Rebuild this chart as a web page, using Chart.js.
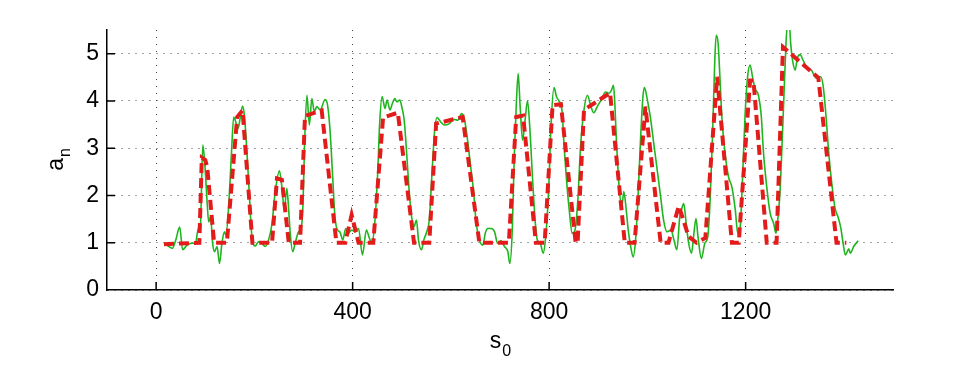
<!DOCTYPE html>
<html>
<head>
<meta charset="utf-8">
<script src="https://cdn.jsdelivr.net/npm/chart.js@4"></script>
<style>
  html, body { margin: 0; padding: 0; background: #fff; }
  canvas { display: block; }
</style>
</head>
<body>
<canvas id="c" width="953" height="378"></canvas>
<script>
// measured signal (green)
const greenX = [16,26,33,40,48,54,63,73,80,86,90,95,99,104,107,111,115,119,124,129,134,139,142,148,153,158,161,167,171,176,180,185,190,195,202,208,215,222,229,236,242,251,256,261,266,269,273,278,283,290,295,299,302,307,312,317,322,327,334,344,349,354,359,364,369,374,380,386,391,398,405,412,420,428,434,439,445,451,455,460,466,470,476,481,486,490,496,500,505,510,515,520,525,530,534,540,545,552,556,562,567,572,579,587,597,606,614,622,628,634,641,646,651,658,665,670,675,682,689,695,702,709,716,720,725,729,733,737,741,746,751,756,761,766,772,776,782,788,793,799,804,810,815,820,826,831,836,841,847,852,858,864,871,878,885,891,898,906,915,922,927,931,933,937,942,948,952,957,961,966,971,976,981,986,991,994,1000,1006,1013,1020,1027,1033,1040,1048,1054,1060,1066,1070,1074,1079,1084,1090,1094,1099,1103,1110,1117,1123,1128,1133,1137,1140,1144,1147,1152,1159,1165,1172,1179,1184,1189,1193,1199,1204,1209,1214,1219,1226,1232,1236,1243,1250,1257,1262,1266,1270,1277,1282,1285,1289,1292,1296,1301,1305,1311,1317,1324,1334,1344,1353,1358,1364,1369,1375,1382,1388,1394,1399,1403,1410,1413,1420,1429];
const greenY = [0.99,0.92,0.88,1.06,1.33,0.85,0.95,0.99,0.99,1.30,1.33,3.07,2.68,1.83,1.44,1.55,0.99,0.81,0.92,0.56,0.99,1.23,1.16,1.83,2.82,3.66,3.59,3.42,3.63,3.89,3.66,2.89,1.97,1.13,0.93,1.02,0.99,0.92,1.06,1.41,2.04,2.52,2.18,1.69,2.15,1.83,1.20,0.81,0.99,1.23,1.30,1.83,3.03,4.12,3.49,4.05,3.77,3.88,3.81,4.03,3.91,3.38,2.47,1.55,1.27,1.23,1.06,1.30,1.20,1.27,1.23,1.30,0.74,1.27,1.10,0.99,1.41,2.47,3.52,4.09,3.84,4.02,3.81,3.95,4.05,3.98,4.02,3.88,3.59,2.89,2.11,1.55,1.34,1.48,1.06,0.85,1.06,1.27,1.48,2.54,3.38,3.65,3.56,3.49,3.52,3.61,3.59,3.73,3.59,3.17,2.54,2.11,1.48,1.06,0.95,1.20,1.30,1.30,1.23,0.99,1.04,0.92,0.81,0.56,1.27,2.82,3.88,4.58,3.88,3.17,3.59,4.00,3.38,2.40,1.41,1.06,0.99,0.78,1.13,2.11,3.52,4.28,4.09,4.00,3.81,2.96,2.25,1.69,1.20,1.24,1.83,3.03,3.81,4.12,3.88,3.75,3.88,4.02,4.19,4.16,4.23,4.33,4.09,3.17,2.25,1.76,2.08,1.69,1.27,0.92,0.70,1.06,1.97,3.17,4.09,4.28,4.02,3.66,3.10,2.54,1.97,1.48,1.23,1.27,1.06,0.85,1.55,1.72,1.83,1.41,0.99,0.78,1.13,1.51,1.13,0.67,0.99,1.13,1.97,3.38,4.79,5.39,5.22,4.65,3.59,2.82,2.40,2.18,1.69,1.20,1.34,2.18,3.73,4.51,4.76,4.51,4.26,4.12,3.66,2.96,2.18,1.62,1.41,1.20,1.55,2.08,3.84,5.18,5.60,5.60,5.18,4.83,4.65,4.90,4.98,4.86,4.72,4.65,4.48,4.51,4.30,3.63,2.92,2.29,1.73,1.55,1.30,0.95,0.74,0.87,0.78,0.92,1.04];

// piecewise fit (red dashed)
const redX = [16,88,93,100,104,118,144,165,176,196,236,246,256,270,293,303,337,367,385,398,412,442,462,492,525,556,570,624,658,718,733,747,773,791,807,824,854,858,871,924,954,974,996,1027,1043,1064,1084,1100,1118,1142,1172,1186,1209,1216,1243,1263,1276,1348,1385,1405];
const redY = [0.97,1.0,2.8,2.75,2.6,1.0,1.0,3.66,3.8,1.0,1.0,2.36,2.33,1.0,1.0,3.68,3.8,1.0,1.0,1.59,1.0,1.0,3.65,3.75,1.0,1.0,3.52,3.66,1.0,1.0,3.66,3.69,1.0,1.0,3.91,3.93,1.0,1.0,3.81,4.17,1.0,1.0,3.88,1.0,1.0,1.78,1.13,1.0,1.1,4.51,1.0,1.0,4.43,4.43,1.0,1.0,5.14,4.49,1.0,1.0];

const xTicks = [0, 400, 800, 1200];
const yTicks = [0, 1, 2, 3, 4, 5];

const FONT = '"Liberation Sans", Arial, sans-serif';

const toPoints = (xs, ys) => xs.map((x, i) => ({x: x, y: ys[i]}));

// inward tick marks + axis titles with subscripts
const extras = {
    id: 'extras',
    afterDraw(chart) {
        const ctx = chart.ctx;
        const a = chart.chartArea;
        const xs = chart.scales.x, ys = chart.scales.y;
        ctx.save();
        ctx.strokeStyle = '#000';
        ctx.lineWidth = 1.5;
        ctx.beginPath();
        xTicks.forEach(v => {
            const px = xs.getPixelForValue(v);
            ctx.moveTo(px, a.bottom);
            ctx.lineTo(px, a.bottom - 8);
        });
        yTicks.forEach(v => {
            if (v === 0) return;
            const py = ys.getPixelForValue(v);
            ctx.moveTo(a.left, py);
            ctx.lineTo(a.left + 8, py);
        });
        ctx.stroke();

        ctx.fillStyle = '#000';
        ctx.textBaseline = 'alphabetic';
        ctx.textAlign = 'left';
        // x title: s0
        ctx.font = '23px ' + FONT;
        const ws = ctx.measureText('s').width;
        ctx.font = '16px ' + FONT;
        const w0 = ctx.measureText('0').width;
        const sx = (a.left + a.right) / 2 - (ws + w0) / 2;
        ctx.font = '23px ' + FONT;
        ctx.fillText('s', sx, 348);
        ctx.font = '16px ' + FONT;
        ctx.fillText('0', sx + ws + 1, 356);
        // y title: an
        ctx.translate(63, (a.top + a.bottom) / 2);
        ctx.rotate(-Math.PI / 2);
        ctx.font = '23px ' + FONT;
        const wa = ctx.measureText('a').width;
        ctx.font = '16px ' + FONT;
        const wn = ctx.measureText('n').width;
        const ax = -(wa + wn) / 2;
        ctx.font = '23px ' + FONT;
        ctx.fillText('a', ax, 0);
        ctx.font = '16px ' + FONT;
        ctx.fillText('n', ax + wa + 1, 7);
        ctx.restore();
    }
};

new Chart(document.getElementById('c'), {
    type: 'line',
    data: {
        datasets: [{
            label: 'fit',
            data: toPoints(redX, redY),
            borderColor: '#e31b1b',
            borderWidth: 4,
            borderDash: [10, 5],
            pointRadius: 0,
            tension: 0,
            order: 0
        }, {
            label: 'signal',
            data: toPoints(greenX, greenY),
            borderColor: '#1fb51f',
            borderWidth: 1.6,
            pointRadius: 0,
            cubicInterpolationMode: 'monotone',
            order: 1
        }]
    },
    options: {
        responsive: false,
        animation: false,
        devicePixelRatio: 1,
        layout: {padding: {top: 30, right: 60, left: 0, bottom: 0}},
        plugins: {legend: {display: false}, tooltip: {enabled: false}},
        scales: {
            x: {
                type: 'linear',
                min: -100,
                max: 1500,
                afterBuildTicks: s => { s.ticks = xTicks.map(v => ({value: v})); },
                afterFit: s => { s.height = 88; },
                grid: {color: '#444', lineWidth: 1, drawTicks: false},
                border: {display: true, color: '#000', width: 1.5, dash: [1, 6]},
                ticks: {padding: 9, color: '#000', font: {family: FONT, size: 23}, maxRotation: 0, autoSkip: false,
                        callback: v => String(v)}
            },
            y: {
                type: 'linear',
                min: 0,
                max: 5.5,
                afterBuildTicks: s => { s.ticks = yTicks.map(v => ({value: v})); },
                afterFit: s => { s.width = 107; },
                grid: {color: '#444', lineWidth: 1, drawTicks: false},
                border: {display: true, color: '#000', width: 1.5, dash: [1, 6]},
                ticks: {padding: 8, color: '#000', font: {family: FONT, size: 23}, callback: v => String(v)}
            }
        }
    },
    plugins: [extras]
});
</script>
</body>
</html>
